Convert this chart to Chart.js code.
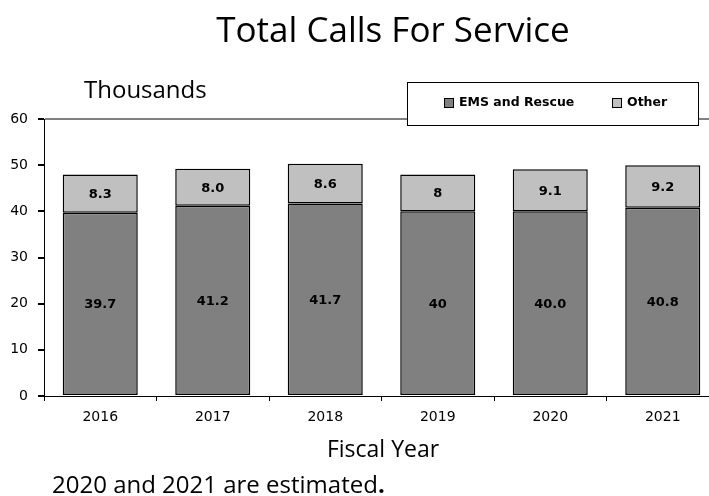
<!DOCTYPE html>
<html>
<head>
<meta charset="utf-8">
<script src="https://cdn.jsdelivr.net/npm/chart.js@4"></script>
<style>
  html, body { margin: 0; padding: 0; overflow: hidden; background: #fff; }
  #wrap { position: absolute; left: 0; top: 0; width: 722px; height: 496px; }
</style>
</head>
<body>
<div id="wrap"><canvas id="callsChart"></canvas></div>
<script>
// Fiscal years and call counts (thousands)
const years = ['2016', '2017', '2018', '2019', '2020', '2021'];
const emsValues = [39.7, 41.2, 41.7, 40, 40.0, 40.8];
const otherValues = [8.3, 8.0, 8.6, 8, 9.1, 9.2];
const emsLabels = ['39.7', '41.2', '41.7', '40', '40.0', '40.8'];
const otherLabels = ['8.3', '8.0', '8.6', '8', '9.1', '9.2'];
const yTicks = [0, 10, 20, 30, 40, 50, 60];

const calibri = '"Open Sans", "Liberation Sans", sans-serif';
const verdana = '"DejaVu Sans", sans-serif';

// draws the value labels, legend box and the extra texts
const decorations = {
  id: 'decorations',
  afterDatasetsDraw(chart) {
    const ctx = chart.ctx;
    ctx.save();

    // labels inside each segment
    ctx.fillStyle = '#000';
    ctx.font = 'bold 13px ' + verdana;
    ctx.textAlign = 'center';
    ctx.textBaseline = 'middle';
    const texts = [emsLabels, otherLabels];
    chart.data.datasets.forEach((ds, i) => {
      chart.getDatasetMeta(i).data.forEach((bar, j) => {
        const mid = (bar.y + bar.base) / 2;
        ctx.fillText(texts[i][j], bar.x, mid + 1);
      });
    });

    ctx.textBaseline = 'alphabetic';

    // title
    ctx.font = '35px ' + calibri;
    ctx.fillText('Total Calls For Service', 393, 42);

    // Thousands
    ctx.textAlign = 'left';
    ctx.font = '24px ' + calibri;
    ctx.fillText('Thousands', 84, 98);

    // x axis title
    ctx.textAlign = 'center';
    ctx.font = '23px ' + calibri;
    ctx.fillText('Fiscal Year', 383, 457);

    // footnote
    ctx.textAlign = 'left';
    ctx.font = '24px ' + calibri;
    const note = '2020 and 2021 are estimated';
    ctx.fillText(note, 52, 493);
    const w = ctx.measureText(note).width;
    ctx.font = 'bold 24px ' + calibri;
    ctx.fillText('.', 52 + w, 493);

    // legend box
    ctx.fillStyle = '#fff';
    ctx.fillRect(407, 82, 291, 43);
    ctx.strokeStyle = '#000';
    ctx.lineWidth = 1;
    ctx.strokeRect(407.5, 82.5, 291, 43);
    ctx.font = 'bold 12.5px ' + verdana;
    ctx.textBaseline = 'middle';
    const items = [[444, chart.data.datasets[0]], [612, chart.data.datasets[1]]];
    items.forEach(([x, ds]) => {
      ctx.fillStyle = ds.backgroundColor;
      ctx.fillRect(x, 98, 10, 10);
      ctx.strokeStyle = '#000';
      ctx.strokeRect(x + 0.5, 98.5, 9, 9);
      ctx.fillStyle = '#000';
      ctx.fillText(ds.label, x + 15, 103);
    });

    ctx.restore();
  }
};

new Chart(document.getElementById('callsChart'), {
  type: 'bar',
  data: {
    labels: years,
    datasets: [{
      label: 'EMS and Rescue',
      data: emsValues,
      backgroundColor: '#808080',
      borderColor: '#000',
      borderWidth: 1.5,
      borderSkipped: false,
      categoryPercentage: 1,
      barPercentage: 0.667
    }, {
      label: 'Other',
      data: otherValues,
      backgroundColor: '#c0c0c0',
      borderColor: '#000',
      borderWidth: 1.5,
      borderSkipped: false,
      categoryPercentage: 1,
      barPercentage: 0.667
    }]
  },
  options: {
    responsive: true,
    maintainAspectRatio: false,
    animation: false,
    layout: { padding: { top: 119, left: 0, right: 3, bottom: 0 } },
    plugins: {
      legend: { display: false },
      title: { display: false },
      tooltip: { enabled: false }
    },
    scales: {
      x: {
        stacked: true,
        afterFit: axis => { axis.height = 100; },
        border: { color: '#000', width: 1 },
        grid: { color: 'rgba(0,0,0,0)', tickColor: '#000', tickLength: 5, drawOnChartArea: false },
        ticks: { color: '#000', font: { family: verdana, size: 14 }, padding: 8 }
      },
      y: {
        stacked: true,
        min: 0,
        max: 60,
        afterFit: axis => { axis.width = 44; },
        afterBuildTicks: axis => { axis.ticks = yTicks.map(v => ({ value: v })); },
        border: { color: '#000', width: 1 },
        grid: {
          color: ctx => ctx.tick && ctx.tick.value === 60 ? '#808080' : 'rgba(0,0,0,0)',
          lineWidth: 2,
          tickColor: '#000',
          tickLength: 6
        },
        ticks: { color: '#000', font: { family: verdana, size: 14 }, padding: 10 }
      }
    }
  },
  plugins: [decorations]
});
</script>
</body>
</html>
